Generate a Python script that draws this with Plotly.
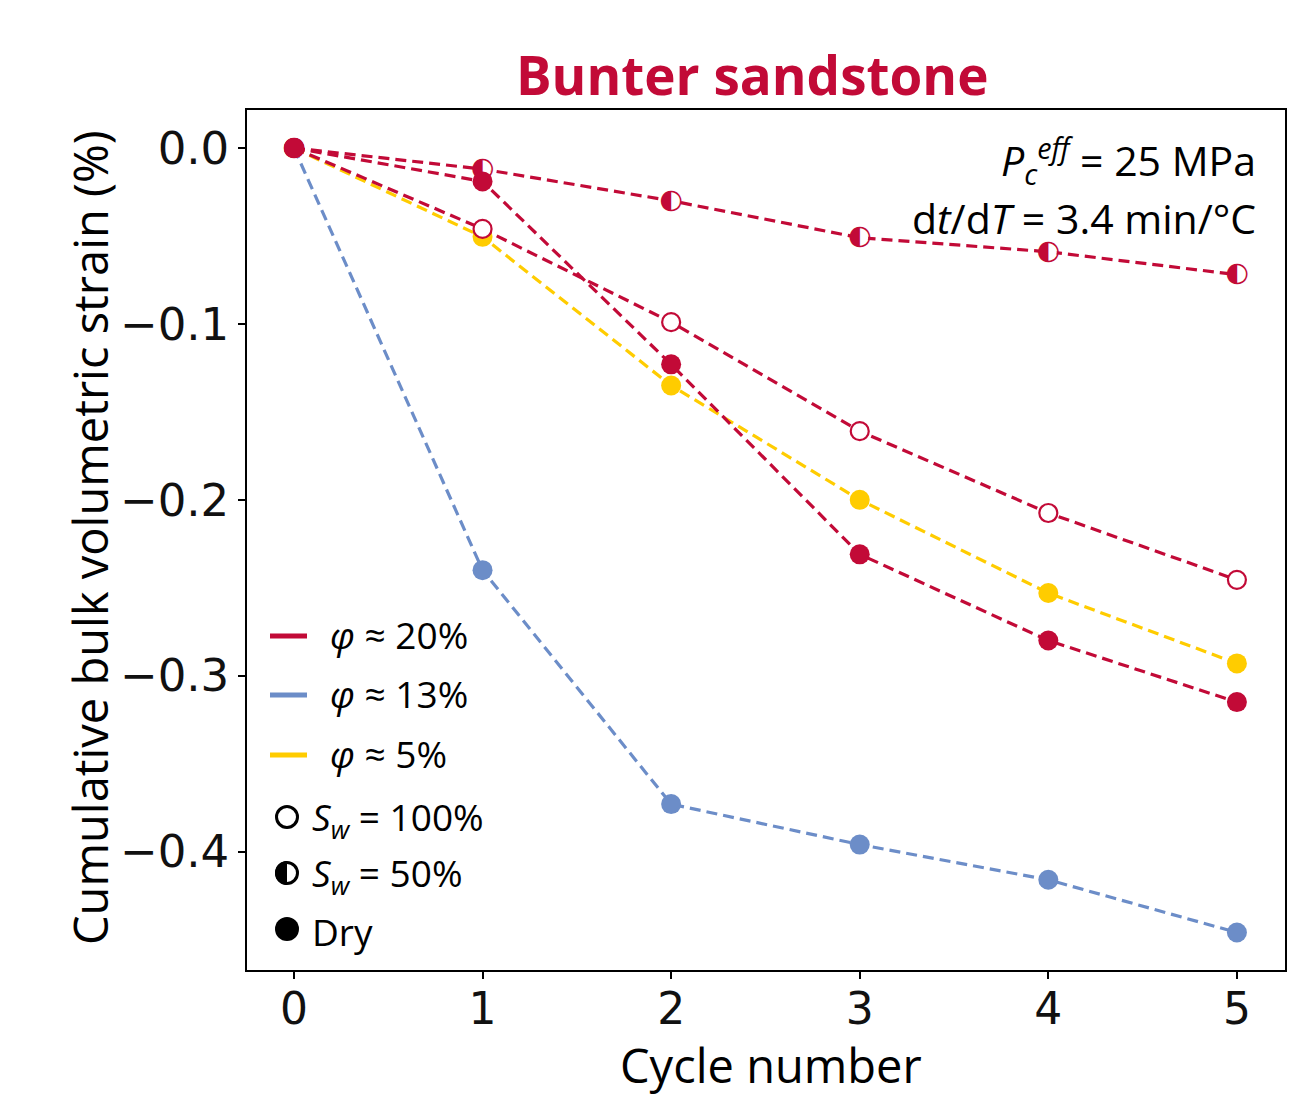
import math
import plotly.graph_objects as go

cycles = [0, 1, 2, 3, 4, 5]
red_sw50 = [0, -0.012, -0.030, -0.051, -0.059, -0.072]
red_sw100 = [0, -0.046, -0.099, -0.161, -0.2075, -0.2455]
red_dry = [0, -0.019, -0.123, -0.231, -0.280, -0.315]
yellow_dry = [0, -0.0505, -0.135, -0.200, -0.253, -0.293]
blue_dry = [0, -0.240, -0.373, -0.396, -0.416, -0.446]

y_tickvals = [0, -0.1, -0.2, -0.3, -0.4]
y_ticktext = ["0.0", "\u22120.1", "\u22120.2", "\u22120.3", "\u22120.4"]
x_tickvals = [0, 1, 2, 3, 4, 5]

RED = "#C20A37"
BLUE = "#6C8DC8"
YEL = "#FFCC00"
DASH = "11px,6px"
LW = 3.2
MS = 20

fig = go.Figure()

# blue
fig.add_trace(go.Scatter(x=cycles, y=blue_dry, mode="lines+markers",
                         line=dict(color=BLUE, width=LW, dash=DASH),
                         marker=dict(color=BLUE, size=MS, symbol="circle")))
# yellow
fig.add_trace(go.Scatter(x=cycles, y=yellow_dry, mode="lines+markers",
                         line=dict(color=YEL, width=LW, dash=DASH),
                         marker=dict(color=YEL, size=MS, symbol="circle")))
# red Sw=100%
fig.add_trace(go.Scatter(x=cycles, y=red_sw100, mode="lines+markers",
                         line=dict(color=RED, width=LW, dash=DASH),
                         marker=dict(color="white", size=MS - 2, symbol="circle",
                                     line=dict(color=RED, width=2.2))))
# red Sw=50% (half-filled glyph)
fig.add_trace(go.Scatter(x=cycles, y=red_sw50, mode="lines",
                         line=dict(color=RED, width=LW, dash=DASH)))
fig.add_trace(go.Scatter(x=cycles, y=red_sw50, mode="markers",
                         marker=dict(color="white", size=MS - 3, symbol="circle",
                                     line=dict(color=RED, width=0))))
fig.add_trace(go.Scatter(x=cycles, y=red_sw50, mode="text",
                         text=["\u25D0"] * len(cycles),
                         textposition="middle center",
                         textfont=dict(family="DejaVu Sans", size=27, color=RED)))
# red dry
fig.add_trace(go.Scatter(x=cycles, y=red_dry, mode="lines+markers",
                         line=dict(color=RED, width=LW, dash=DASH),
                         marker=dict(color=RED, size=MS, symbol="circle")))

L, R, T, B = 247, 1285, 110, 970
W, H = 1315, 1097
pw, ph = R - L, B - T


def px(x):
    return (x - L) / pw


def py(y):
    return (B - y) / ph


shapes = []
annotations = []
FONT = "Open Sans"
LEGF = 37

# legend lines
for yy, col, lab in [(636, RED, "20%"), (695, BLUE, "13%"), (755, YEL, "5%")]:
    shapes.append(dict(type="line", xref="paper", yref="paper",
                       x0=px(270), x1=px(307), y0=py(yy), y1=py(yy),
                       line=dict(color=col, width=5)))
    annotations.append(dict(xref="paper", yref="paper", x=px(328), y=py(yy - 2),
                            xanchor="left", yanchor="middle", showarrow=False,
                            text="<i>\u03c6</i> \u2248 " + lab,
                            font=dict(family=FONT, size=LEGF, color="black")))

# legend markers
r = 12
cx = 287
for yy, kind, lab in [(817, "open", "<i>S<sub>w</sub></i> = 100%"),
                      (873, "half", "<i>S<sub>w</sub></i> = 50%"),
                      (929, "full", "Dry")]:
    if kind == "full":
        shapes.append(dict(type="circle", xref="paper", yref="paper",
                           x0=px(cx - r), x1=px(cx + r), y0=py(yy + r), y1=py(yy - r),
                           line=dict(color="black", width=0), fillcolor="black"))
    else:
        shapes.append(dict(type="circle", xref="paper", yref="paper",
                           x0=px(cx - r + 1.5), x1=px(cx + r - 1.5),
                           y0=py(yy + r - 1.5), y1=py(yy - r + 1.5),
                           line=dict(color="black", width=3), fillcolor="white"))
        if kind == "half":
            rx = r / pw
            ry = r / ph
            pts = []
            n = 24
            for i in range(n + 1):
                a = math.pi / 2 + math.pi * i / n
                pts.append((px(cx) + rx * math.cos(a), py(yy) + ry * math.sin(a)))
            path = "M " + " L ".join(f"{a:.5f},{b:.5f}" for a, b in pts) + " Z"
            shapes.append(dict(type="path", xref="paper", yref="paper", path=path,
                               line=dict(color="black", width=0), fillcolor="black"))
    annotations.append(dict(xref="paper", yref="paper", x=px(310), y=py(yy + 2),
                            xanchor="left", yanchor="middle", showarrow=False,
                            text=lab, font=dict(family=FONT, size=LEGF, color="black")))

# top-right notes
annotations.append(dict(xref="paper", yref="paper", x=px(1258), y=py(160),
                        xanchor="right", yanchor="middle", showarrow=False,
                        text="<i>P</i><sub><i>c</i></sub><sup><i>eff</i></sup> = 25 MPa",
                        font=dict(family=FONT, size=41, color="black")))
annotations.append(dict(xref="paper", yref="paper", x=px(1258), y=py(218),
                        xanchor="right", yanchor="middle", showarrow=False,
                        text="d<i>t</i>/d<i>T</i> = 3.4 min/\u00b0C",
                        font=dict(family=FONT, size=41, color="black")))

# title
annotations.append(dict(xref="paper", yref="paper", x=px(752), y=py(75),
                        xanchor="center", yanchor="middle", showarrow=False,
                        text="<b>Bunter sandstone</b>",
                        font=dict(family=FONT, size=53, color=RED)))
# axis titles
annotations.append(dict(xref="paper", yref="paper", x=px(90), y=py(538),
                        xanchor="center", yanchor="middle", showarrow=False,
                        textangle=-90,
                        text="Cumulative bulk volumetric strain (%)",
                        font=dict(family=FONT, size=47, color="black")))
annotations.append(dict(xref="paper", yref="paper", x=px(771), y=py(1065),
                        xanchor="center", yanchor="middle", showarrow=False,
                        borderpad=0,
                        text="Cycle number",
                        font=dict(family=FONT, size=47, color="black")))

fig.update_layout(
    width=W, height=H,
    margin=dict(l=L, r=W - R, t=T, b=H - B),
    paper_bgcolor="white", plot_bgcolor="white",
    showlegend=False,
    shapes=shapes, annotations=annotations,
    xaxis=dict(range=[-0.249, 5.255], tickvals=x_tickvals,
               showgrid=False, zeroline=False,
               showline=True, linecolor="black", linewidth=1.5, mirror=True,
               ticks="outside", ticklen=7, tickwidth=1.5, tickcolor="black",
               ticklabelstandoff=-8,
               tickfont=dict(family="DejaVu Sans", size=44, color="#111")),
    yaxis=dict(range=[-0.4673, 0.0216], tickvals=y_tickvals, ticktext=y_ticktext,
               showgrid=False, zeroline=False,
               showline=True, linecolor="black", linewidth=1.5, mirror=True,
               ticks="outside", ticklen=7, tickwidth=1.5, tickcolor="black",
               tickfont=dict(family="DejaVu Sans", size=45, color="#111")),
)

fig.write_html("out.html")
